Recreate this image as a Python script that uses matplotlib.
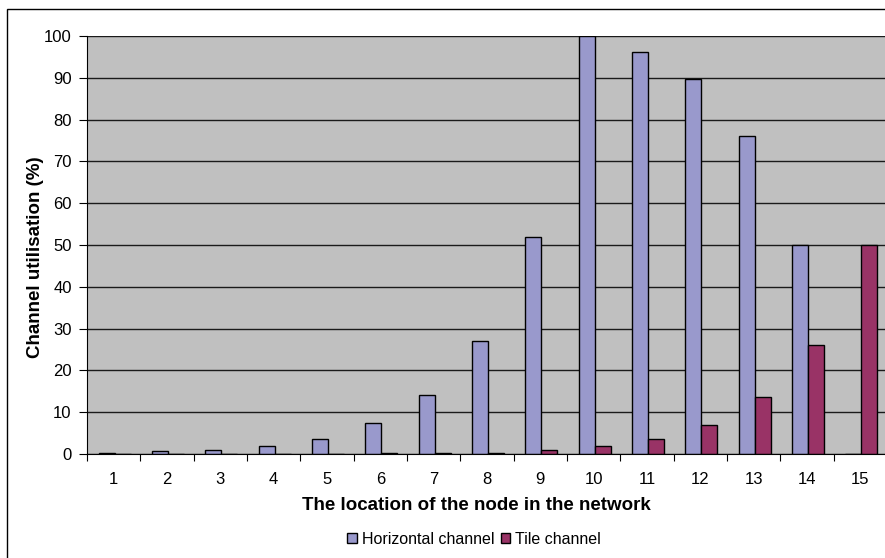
import matplotlib
matplotlib.use("Agg")
import matplotlib.pyplot as plt
from matplotlib.patches import Rectangle
import numpy as np

plt.rcParams['font.family'] = ['Liberation Sans', 'DejaVu Sans']

nodes = list(range(1, 16))
horizontal = [0.3, 0.7, 1.0, 1.9, 3.7, 7.5, 14.0, 27.0, 52.0, 100.0, 96.2, 89.7, 76.0, 50.0, 0.0]
tile = [0.0, 0.0, 0.0, 0.0, 0.0, 0.2, 0.2, 0.3, 0.9, 1.9, 3.7, 6.9, 13.7, 26.0, 50.0]
y_ticks = list(range(0, 101, 10))

W, H = 885, 558
fig = plt.figure(figsize=(W / 100, H / 100), dpi=100)
fig.patch.set_facecolor('white')

# outer chart-area frame
fig.add_artist(Rectangle((7 / W, -0.01), 1.0, 1 - 9 / H + 0.01, transform=fig.transFigure,
                         fill=False, edgecolor='black', linewidth=1.0))

left, right, top, bottom = 87, 887, 36, 454
ax = fig.add_axes([left / W, 1 - bottom / H, (right - left) / W, (bottom - top) / H])
ax.set_facecolor('#C0C0C0')

x = np.arange(len(nodes))
bw = 0.3
shift = 0.02
ax.bar(x - bw / 2 + shift, horizontal, width=bw, color='#9999CC', edgecolor='black',
       linewidth=1.0, label='Horizontal channel', zorder=3)
ax.bar(x + bw / 2 + shift, tile, width=bw, color='#993366', edgecolor='black',
       linewidth=1.0, label='Tile channel', zorder=3)

ax.set_xlim(-0.5, len(nodes) - 0.5)
ax.set_ylim(0, 100)
ax.set_yticks(y_ticks)
ax.set_yticklabels([str(v) for v in y_ticks], fontsize=12)
ax.yaxis.grid(True, color='#1a1a1a', linewidth=1.0, zorder=1)
ax.set_axisbelow(True)

ax.set_xticks(np.arange(-0.5, len(nodes), 1.0), minor=False)
ax.set_xticklabels([])
ax.set_xticks(x, minor=True)
ax.set_xticklabels([str(n) for n in nodes], minor=True, fontsize=12)
ax.tick_params(axis='x', which='minor', length=0, pad=13)
ax.tick_params(axis='x', which='major', length=5, direction='out', color='black')
ax.tick_params(axis='y', length=6, direction='out', pad=5)

for side in ['top', 'right']:
    ax.spines[side].set_visible(False)
ax.spines['left'].set_color('black')
ax.spines['bottom'].set_color('black')
ax.spines['left'].set_zorder(4)
ax.spines['bottom'].set_zorder(4)

fig.text(36 / W, 1 - 257 / H, 'Channel utilisation (%)', rotation=90, ha='center', va='center',
         fontsize=13.5, fontweight='bold')
fig.text(476 / W, 1 - 505 / H, 'The location of the node in the network', ha='center',
         va='center', fontsize=13.5, fontweight='bold')

handles, labels = ax.get_legend_handles_labels()
leg = fig.legend(handles, labels, loc='center', bbox_to_anchor=(474 / W, 1 - 539 / H), ncol=2,
                 frameon=False, fontsize=11.5, handlelength=0.6, handleheight=0.6,
                 handletextpad=0.3, columnspacing=0.4)

fig.savefig('out.png', dpi=100, facecolor='white')
